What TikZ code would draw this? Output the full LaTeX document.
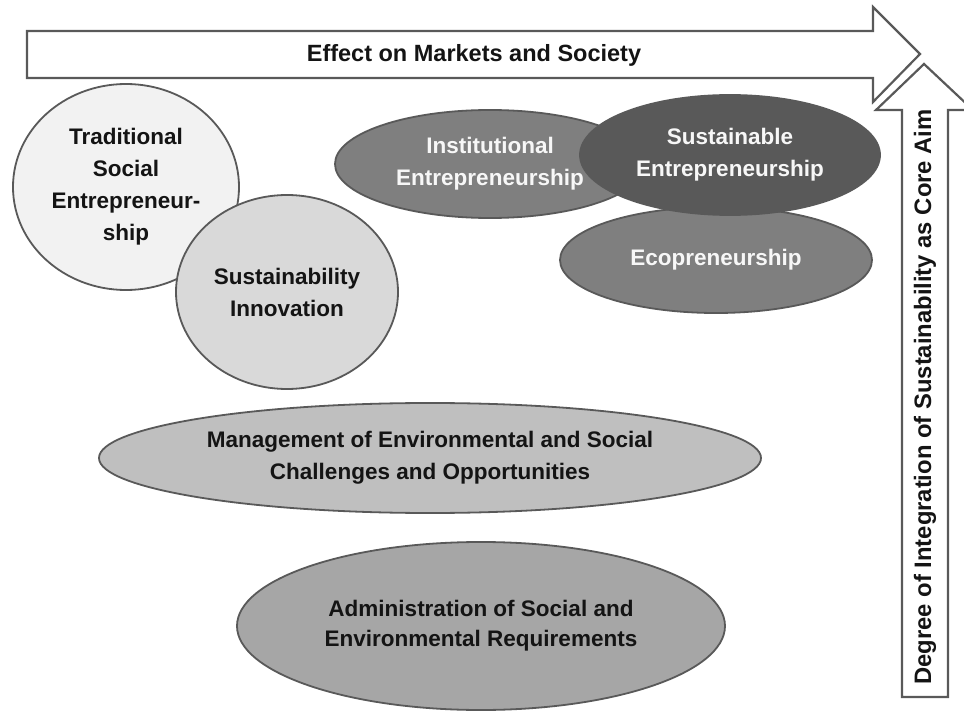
\documentclass[tikz,border=0pt]{standalone}
\usepackage{fontspec}
\setmainfont{Liberation Sans}
\usetikzlibrary{shapes.geometric}
\definecolor{edgegray}{HTML}{595959}
\definecolor{fillA}{HTML}{F2F2F2}
\definecolor{fillB}{HTML}{D9D9D9}
\definecolor{fillC}{HTML}{7F7F7F}
\definecolor{fillD}{HTML}{595959}
\definecolor{fillE}{HTML}{BFBFBF}
\definecolor{fillF}{HTML}{A6A6A6}
\definecolor{darktext}{HTML}{141414}
\definecolor{lighttext}{HTML}{F7F7F7}
\begin{document}
\begin{tikzpicture}[x=1pt,y=-1pt,
  blob/.style={ellipse, draw=edgegray, line width=1.8pt, inner sep=0pt, align=center,
    font=\bfseries\fontsize{22.5}{32}\selectfont, text=darktext},
  lightblob/.style={blob, text=lighttext},
  arrowshape/.style={draw=edgegray, fill=white, line width=2.2pt, line join=miter},
  arrowlabel/.style={font=\bfseries\fontsize{23.5}{28}\selectfont, text=darktext, inner sep=0pt}]
\useasboundingbox (0,0) rectangle (964,711);
\clip (0,0) rectangle (964,711);
\fill[white] (0,0) rectangle (964,711);

% ellipses
\node[blob, fill=fillA, minimum width=226pt, minimum height=206pt] (trad) at (126,187)
  {Traditional\\Social\\Entrepreneur-\\ship};
\node[blob, fill=fillB, minimum width=222pt, minimum height=194pt] (innov) at (287,292)
  {Sustainability\\Innovation};
\node[lightblob, fill=fillC, minimum width=310pt, minimum height=108pt] (inst) at (490,164)
  {Institutional\\Entrepreneurship};
\node[lightblob, fill=fillC, minimum width=312pt, minimum height=106pt] (eco) at (716,260)
  {Ecopreneurship};
\node[lightblob, fill=fillD, minimum width=300pt, minimum height=120pt] (sust) at (730,155)
  {Sustainable\\Entrepreneurship};
\node[blob, fill=fillE, minimum width=662pt, minimum height=110pt] (mgmt) at (430,458)
  {Management of Environmental and Social\\Challenges and Opportunities};
\node[blob, fill=fillF, minimum width=488pt, minimum height=168pt, font=\bfseries\fontsize{22.5}{30}\selectfont] (admin) at (481,626)
  {Administration of Social and\\Environmental Requirements};

% horizontal arrow
\draw[arrowshape] (27,31) -- (873,31) -- (873,7) -- (920,54) -- (873,102) -- (873,78) -- (27,78) -- cycle;
\node[arrowlabel, anchor=base] (effect) at (474,62) {Effect on Markets and Society};

% vertical arrow
\draw[arrowshape] (902,697) -- (902,110) -- (876,110) -- (924,64) -- (973,110) -- (948,110) -- (948,697) -- cycle;
\node[arrowlabel, rotate=90, font=\bfseries\fontsize{23.8}{28}\selectfont] (degree) at (925,397)
  {Degree of Integration of Sustainability as Core Aim};
\end{tikzpicture}
\end{document}
